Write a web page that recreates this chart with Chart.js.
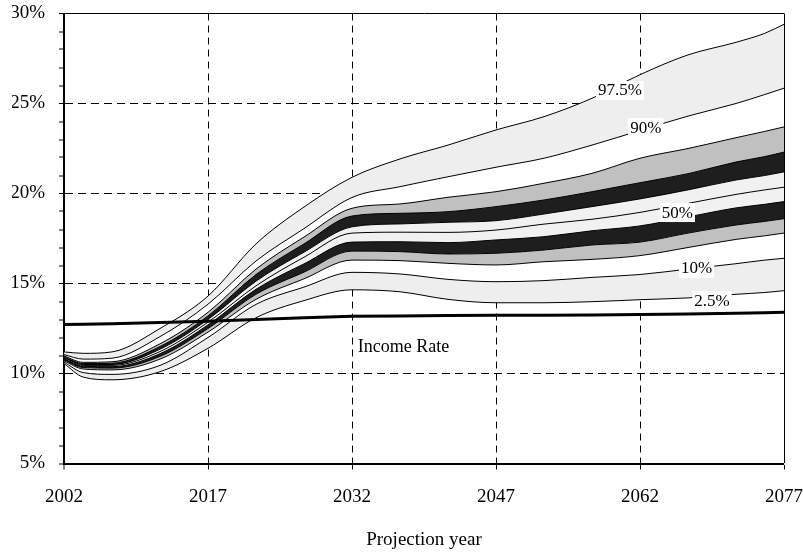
<!DOCTYPE html>
<html><head><meta charset="utf-8">
<script src="https://cdn.jsdelivr.net/npm/chart.js@4"></script>
<style>html,body{margin:0;padding:0;background:#fff}canvas{display:block}</style>
</head><body>
<canvas id="c" width="803" height="552"></canvas>
<script>
// ---- data (percent) ----
const years  = [2002, 2004, 2007, 2012, 2017, 2022, 2027, 2032, 2037, 2042, 2047, 2052, 2057, 2062, 2067, 2072, 2075, 2077];
const p975   = [11.2, 11.12, 11.2, 12.5, 14.3, 17.2, 19.25, 20.9, 21.92, 22.69, 23.53, 24.27, 25.29, 26.6, 27.7, 28.4, 28.9, 29.4];
const p90    = [11.05, 10.8, 10.85, 12.05, 13.85, 16.25, 18.05, 19.78, 20.38, 20.93, 21.46, 21.96, 22.69, 23.5, 24.3, 25.0, 25.5, 25.85];
const p80    = [10.98, 10.62, 10.65, 11.65, 13.4, 15.8, 17.58, 19.18, 19.42, 19.79, 20.1, 20.57, 21.12, 21.96, 22.5, 23.1, 23.45, 23.7];
const p70    = [10.93, 10.55, 10.57, 11.5, 13.2, 15.5, 17.2, 18.75, 18.9, 18.99, 19.27, 19.64, 20.1, 20.6, 21.1, 21.75, 22.05, 22.3];
const p60    = [10.88, 10.5, 10.5, 11.35, 13.0, 15.13, 16.74, 18.15, 18.31, 18.4, 18.49, 18.86, 19.27, 19.7, 20.2, 20.75, 21.0, 21.2];
const p50    = [10.84, 10.45, 10.45, 11.22, 12.85, 14.87, 16.46, 17.8, 17.85, 17.84, 17.97, 18.3, 18.57, 18.95, 19.45, 19.95, 20.2, 20.35];
const p40    = [10.8, 10.4, 10.38, 11.1, 12.7, 14.68, 16.09, 17.3, 17.32, 17.27, 17.42, 17.6, 17.93, 18.2, 18.7, 19.2, 19.4, 19.55];
const p30    = [10.75, 10.33, 10.3, 10.95, 12.5, 14.4, 15.63, 16.8, 16.77, 16.64, 16.68, 16.86, 17.14, 17.3, 17.8, 18.25, 18.45, 18.6];
const p20    = [10.7, 10.25, 10.2, 10.8, 12.3, 14.12, 15.26, 16.3, 16.27, 16.12, 16.03, 16.21, 16.34, 16.55, 17.0, 17.45, 17.65, 17.8];
const p10    = [10.63, 10.05, 9.95, 10.45, 12.0, 13.84, 14.8, 15.62, 15.53, 15.23, 15.1, 15.16, 15.34, 15.5, 15.8, 16.1, 16.3, 16.4];
const p025   = [10.55, 9.8, 9.65, 10.1, 11.4, 13.1, 14.05, 14.65, 14.54, 14.12, 13.93, 13.93, 13.99, 14.1, 14.2, 14.4, 14.5, 14.6];
const income = [12.72, 12.74, 12.77, 12.83, 12.9, 13.0, 13.1, 13.18, 13.2, 13.22, 13.23, 13.24, 13.25, 13.28, 13.31, 13.35, 13.37, 13.4];

const xTickYears = [2002, 2017, 2032, 2047, 2062, 2077];
const bandLabels = ['97.5%', '90%', '50%', '10%', '2.5%'];
const bandLabelAt = [[2059.9, 25.75], [2062.6, 23.69], [2065.9, 18.97], [2067.9, 15.86], [2069.5, 14.08]];
const incomeLabel = 'Income Rate';
const incomeLabelAt = [2032.6, 11.44];

// ---- styling ----
const LIGHT = '#eeeeee', MID = '#f1f1f1', GRAY = '#c0c0c0', BLACK = '#1e1e1e', WHITE = '#ffffff';
const series = [p025, p10, p20, p30, p40, p50, p60, p70, p80, p90, p975];
const bandFill = [null, LIGHT, WHITE, GRAY, BLACK, MID, MID, BLACK, GRAY, WHITE, LIGHT];
const FONT = 'Liberation Serif';
Chart.defaults.font.family = FONT;
Chart.defaults.color = '#000';

const datasets = series.map((s, i) => ({
  data: years.map((yr, j) => ({x: yr, y: s[j]})),
  borderColor: '#000', borderWidth: 1, pointRadius: 0,
  cubicInterpolationMode: 'monotone',
  fill: i === 0 ? false : '-1',
  backgroundColor: bandFill[i] || 'rgba(0,0,0,0)'
}));
datasets.push({
  label: incomeLabel,
  data: years.map((yr, j) => ({x: yr, y: income[j]})),
  borderColor: '#000', borderWidth: 3, pointRadius: 0, fill: false, tension: 0
});

const labelPlugin = {
  id: 'bandLabels',
  afterDatasetsDraw(chart) {
    const {ctx, scales: {x, y}} = chart;
    ctx.save();
    ctx.font = '17px "' + FONT + '"';
    ctx.textBaseline = 'middle';
    bandLabels.forEach((t, i) => {
      const px = x.getPixelForValue(bandLabelAt[i][0]);
      const py = y.getPixelForValue(bandLabelAt[i][1]);
      const w = ctx.measureText(t).width;
      ctx.fillStyle = '#fff';
      ctx.fillRect(px - w / 2 - 2, py - 9, w + 4, 19);
      ctx.fillStyle = '#000';
      ctx.textAlign = 'center';
      ctx.fillText(t, px, py + 1);
    });
    ctx.font = '18px "' + FONT + '"';
    ctx.textAlign = 'left';
    ctx.fillText(incomeLabel, x.getPixelForValue(incomeLabelAt[0]), y.getPixelForValue(incomeLabelAt[1]));
    ctx.restore();
  }
};

new Chart(document.getElementById('c'), {
  type: 'line',
  data: {datasets},
  plugins: [labelPlugin],
  options: {
    responsive: false, animation: false, devicePixelRatio: 1,
    layout: {padding: {left: 12, right: 0, top: 13.5, bottom: 0}},
    plugins: {legend: {display: false}, tooltip: {enabled: false}, filler: {drawTime: 'beforeDatasetsDraw'}},
    scales: {
      x: {
        type: 'linear', min: 2002, max: 2077,
        afterBuildTicks: s => { s.ticks = xTickYears.map(v => ({value: v})); },
        afterFit: s => { s.height = 88.5; s.paddingLeft = 0; s.paddingRight = 19; },
        ticks: {font: {size: 19}, color: '#000', padding: 16, maxRotation: 0, autoSkip: false, callback: v => String(v)},
        grid: {
          color: '#000',
          lineWidth: c => (c.tick && c.tick.value > 2002) ? 1 : 0,
          tickColor: '#000', tickWidth: 1, tickLength: 6
        },
        border: {color: '#000', width: 2, dash: c => (c.tick && c.tick.value === 2077) ? [] : [7, 5]},
        title: {display: true, text: 'Projection year', font: {size: 19}, color: '#000', padding: {top: 4, bottom: 1}}
      },
      y: {
        type: 'linear', min: 5, max: 30,
        afterFit: s => { s.width = 52; s.paddingTop = 0; s.paddingBottom = 0; },
        ticks: {stepSize: 1, autoSkip: false, font: {size: 19}, color: '#000', padding: 14,
                callback: v => (v % 5 === 0 ? v + '%' : '')},
        grid: {
          color: '#000',
          lineWidth: c => (c.tick && c.tick.value % 5 === 0 && c.tick.value > 5) ? 1 : 0,
          tickColor: '#000', tickWidth: 1, tickLength: 5
        },
        border: {color: '#000', width: 2, dash: c => (c.tick && c.tick.value === 30) ? [] : [8, 5]}
      }
    }
  }
});
</script>
</body></html>
